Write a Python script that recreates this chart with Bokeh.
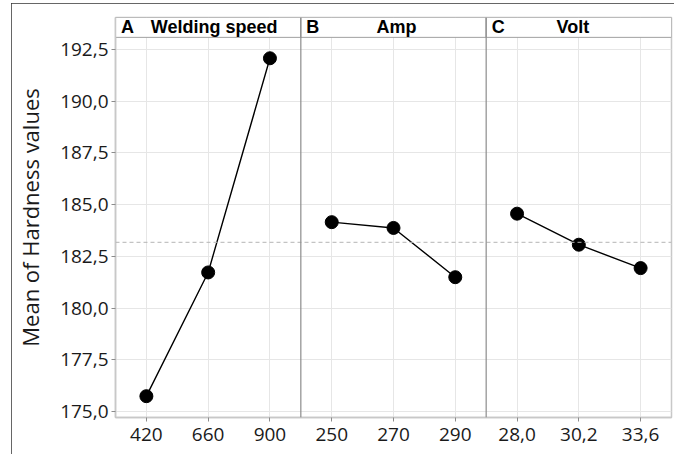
import numpy as np
from bokeh.plotting import figure
from bokeh.models import (ColumnDataSource, FixedTicker, CustomJSTickFormatter,
                          Span, Range1d)
from bokeh.core.properties import value
from bokeh.embed import file_html
from bokeh.resources import INLINE

# ---- data ----
factor_letters = ["A", "B", "C"]
factor_names = ["Welding speed", "Amp", "Volt"]
speed_levels = ["420", "660", "900"]
amp_levels = ["250", "270", "290"]
volt_levels = ["28,0", "30,2", "33,6"]
speed_means = [175.74, 181.72, 192.07]
amp_means = [184.15, 183.87, 181.49]
volt_means = [184.56, 183.06, 181.93]
y_ticks = [175.0, 177.5, 180.0, 182.5, 185.0, 187.5, 190.0, 192.5]
y_label = "Mean of Hardness values"

levels = [speed_levels, amp_levels, volt_levels]
means = [speed_means, amp_means, volt_means]
n = len(speed_levels)
k = len(levels)
all_labels = speed_levels + amp_levels + volt_levels
grand_mean = float(np.mean(speed_means + amp_means + volt_means))

y_lo, y_plot_top, y_hi = 174.71, 193.08, 194.04

p = figure(width=663, height=451, output_backend="svg", toolbar_location=None,
           x_range=Range1d(0.5, k * n + 0.5), y_range=Range1d(y_lo, y_hi),
           min_border_left=104, min_border_right=3, min_border_top=14,
           min_border_bottom=37)
p.styles = {"margin": "3px 0px 0px 11px",
            "outline": "1px solid #333333", "outline-offset": "-1px"}

p.outline_line_color = "#c8c8c8"
p.outline_line_width = 1.5

# grids
x_tick_pos = list(range(1, k * n + 1))
p.xgrid.ticker = FixedTicker(ticks=x_tick_pos)
p.ygrid.ticker = FixedTicker(ticks=y_ticks)
p.xgrid.grid_line_color = "#e6e6e6"
p.ygrid.grid_line_color = "#e6e6e6"

# axes
font = "Open Sans"
p.xaxis.ticker = FixedTicker(ticks=x_tick_pos)
p.xaxis.formatter = CustomJSTickFormatter(args=dict(labels=all_labels),
                                          code="return labels[Math.round(tick) - 1];")
p.yaxis.ticker = FixedTicker(ticks=y_ticks)
p.yaxis.formatter = CustomJSTickFormatter(code="return tick.toFixed(1).replace('.', ',');")
for ax in (p.xaxis, p.yaxis):
    ax.axis_line_color = "#c8c8c8"
    ax.axis_line_width = 1.5
    ax.major_tick_line_color = "#8c8c8c"
    ax.major_tick_in = 0
    ax.major_tick_out = 4
    ax.minor_tick_line_color = None
    ax.major_label_text_font = font
    ax.major_label_text_font_size = "19px"
    ax.major_label_text_color = "#1a1a1a"
p.xaxis.major_label_standoff = 6
p.yaxis.major_label_standoff = 3
p.yaxis.axis_label = y_label
p.yaxis.axis_label_text_font = font
p.yaxis.axis_label_text_font_size = "22px"
p.yaxis.axis_label_text_font_style = "normal"
p.yaxis.axis_label_text_color = "#1a1a1a"
p.yaxis.axis_label_standoff = 12

# grand mean reference line
p.add_layout(Span(location=grand_mean, dimension="width", line_color="#b4b4b4",
                  line_dash="4 3", line_width=1))

# main effects lines & points
for i in range(k):
    xs = [i * n + j + 1 for j in range(n)]
    src = ColumnDataSource(dict(x=xs, y=means[i]))
    p.line("x", "y", source=src, line_color="black", line_width=1.4)
    p.scatter("x", "y", source=src, size=13, fill_color="black", line_color="black")

# strips (facet headers)
lefts = [i * n + 0.5 for i in range(k)]
rights = [(i + 1) * n + 0.5 for i in range(k)]
p.quad(left=lefts, right=rights, bottom=y_plot_top, top=y_hi,
       fill_color="white", line_color="#a0a0a0", line_width=1)
y_mid = (y_plot_top + y_hi) / 2
p.text(x=lefts, y=[y_mid] * k, text=factor_letters, x_offset=12,
       text_align="center", text_baseline="middle",
       text_font=value("Liberation Sans"), text_font_style="bold",
       text_font_size="18px", text_color="black")
centers = [(l + r) / 2 for l, r in zip(lefts, rights)]
p.text(x=centers, y=[y_mid] * k, text=factor_names, x_offset=[6, 3, -6],
       text_align="center", text_baseline="middle",
       text_font=value("Liberation Sans"), text_font_style="bold",
       text_font_size="18px", text_color="black")

# panel dividers
for b in rights[:-1]:
    p.add_layout(Span(location=b, dimension="height", line_color="#8c8c8c",
                      line_width=1.2))

open("out.html", "w").write(file_html(p, INLINE))
